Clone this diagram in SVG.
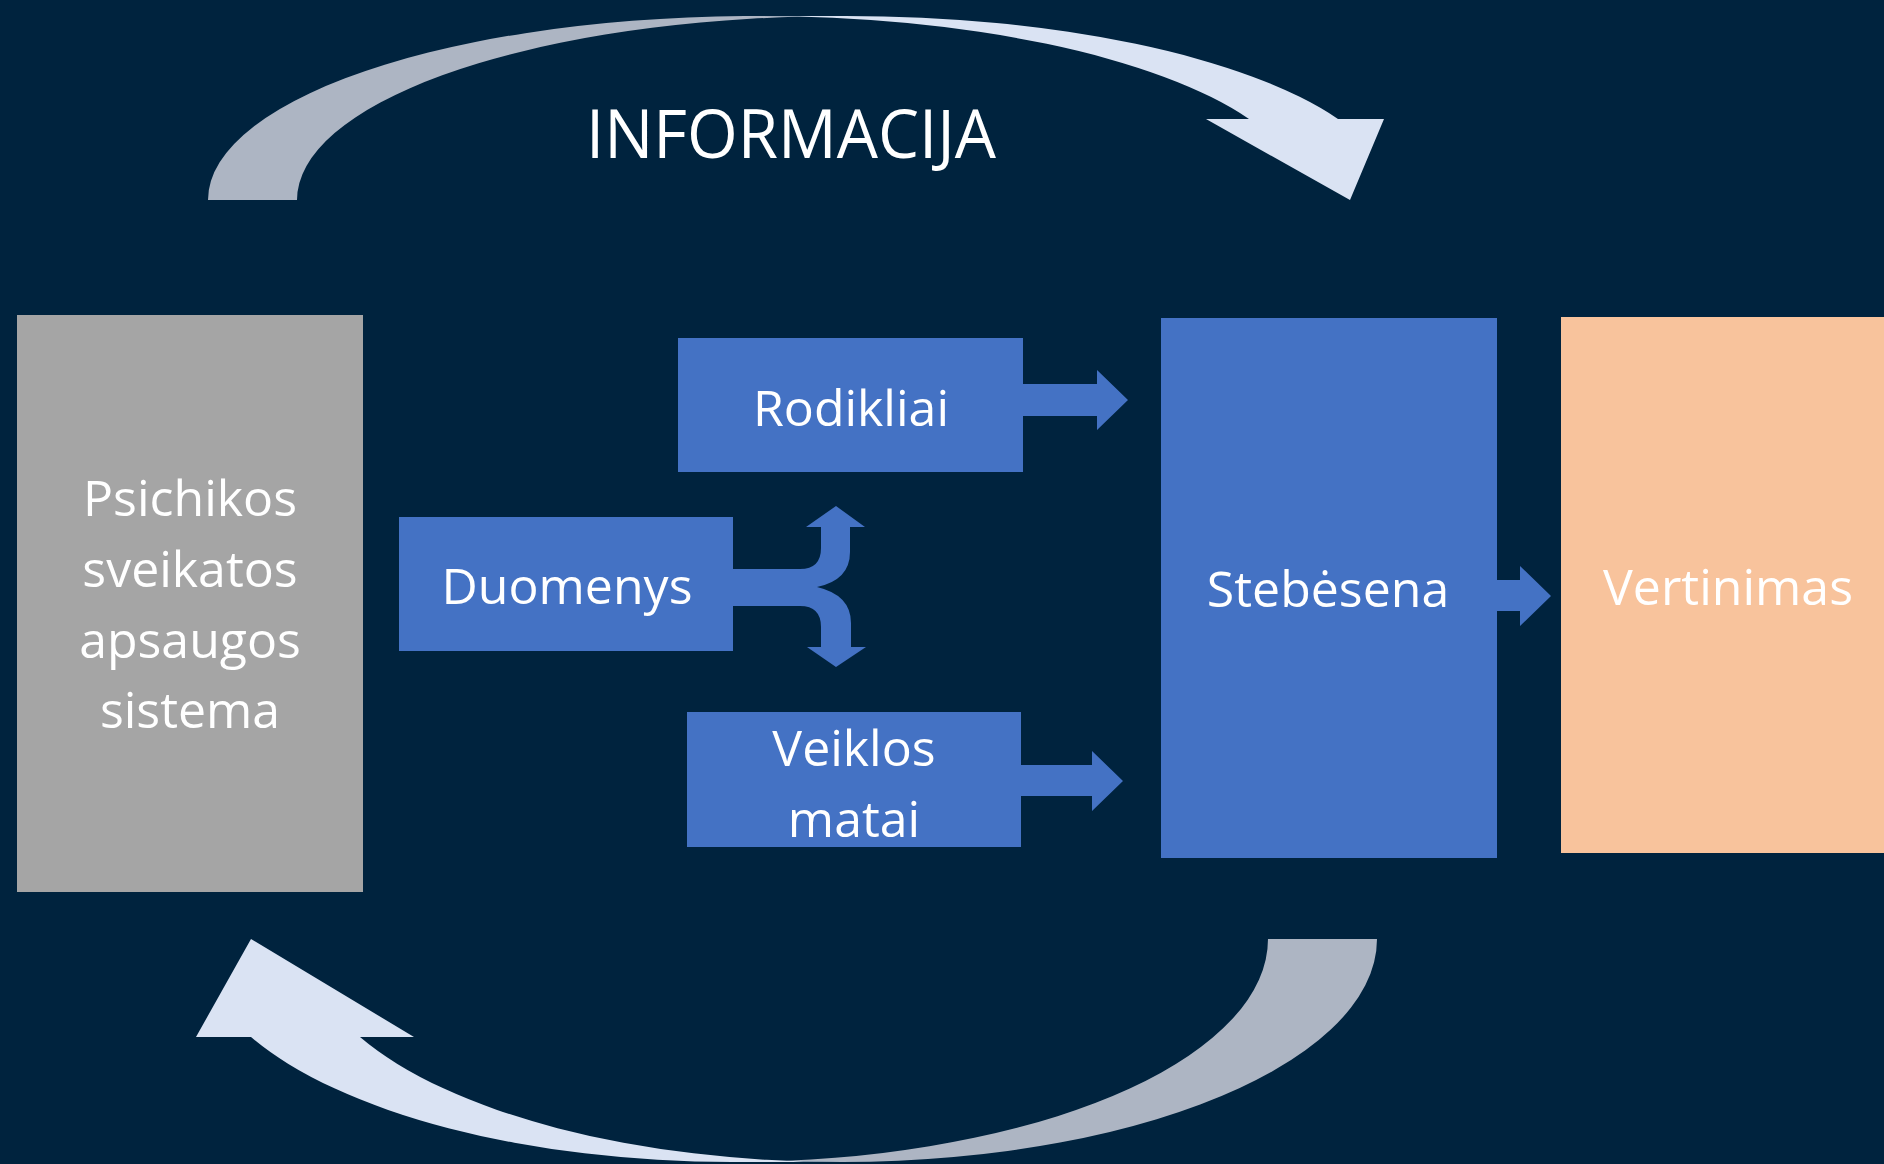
<svg xmlns="http://www.w3.org/2000/svg" width="1884" height="1164" viewBox="0 0 1884 1164">
  <style>
    .blue { fill: #4472C4; }
    .back { fill: #ADB5C3; }
    .light { fill: #DAE3F3; }
    .lbl { font-family: "Open Sans", "Liberation Sans", sans-serif; font-size: 50px; fill: #FFFFFF; text-anchor: middle; }
  </style>
  <rect x="0" y="0" width="1884" height="1164" fill="#00233E"/>

  <g id="connectors">
    <!-- top curved arrow (INFORMACIJA) -->
    <path class="back" d="M 208,200 A 548.5,184 0 0 1 801,16.6 A 548.5,184 0 0 0 297,200 Z"/>
    <path class="light" d="M 1350,200 L 1206,119 L 1249,119 A 548.5,184 0 0 0 756.5,16 L 845.5,16 A 548.5,184 0 0 1 1338,119 L 1384,119 Z"/>
    <!-- bottom curved arrow -->
    <path class="back" d="M 1377,939 A 536,223 0 0 1 786.5,1160.8 A 536,223 0 0 0 1268,939 Z"/>
    <path class="light" d="M 251,939 L 414,1037 L 360,1037 A 536,223 0 0 0 841,1162 L 732,1162 A 536,223 0 0 1 251,1037 L 196,1037 Z"/>
    <!-- split arrow from Duomenys -->
    <path class="blue" d="M 733,569 L 800,569 Q 821,569 821,548 L 821,527 L 806,527 L 836,506 L 865,527 L 850,527 L 850,552 Q 850,580 817,587 Q 851,595 851,623 L 851,647 L 866,647 L 836,667 L 807,647 L 821,647 L 821,627 Q 821,606 800,606 L 733,606 Z"/>
    <!-- Rodikliai -> Stebesena -->
    <path class="blue" d="M 1022,384 L 1097,384 L 1097,370 L 1128,400 L 1097,430 L 1097,416 L 1022,416 Z"/>
    <!-- Veiklos matai -> Stebesena -->
    <path class="blue" d="M 1020,765 L 1092,765 L 1092,751 L 1123,781 L 1092,811 L 1092,796 L 1020,796 Z"/>
    <!-- Stebesena -> Vertinimas -->
    <path class="blue" d="M 1496,580 L 1520,580 L 1520,566 L 1551,596 L 1520,626 L 1520,611 L 1496,611 Z"/>
  </g>

  <text x="791" y="158" font-family="Open Sans, Liberation Sans, sans-serif" font-size="67" fill="#FFFFFF" text-anchor="middle" textLength="410" lengthAdjust="spacingAndGlyphs">INFORMACIJA</text>

  <g id="node-sistema">
    <rect x="17" y="315" width="346" height="577" fill="#A5A5A5"/>
    <text class="lbl" x="190" y="516">Psichikos</text>
    <text class="lbl" x="190" y="587">sveikatos</text>
    <text class="lbl" x="190" y="658">apsaugos</text>
    <text class="lbl" x="190" y="728">sistema</text>
  </g>

  <g id="node-rodikliai">
    <rect class="blue" x="678" y="338" width="345" height="134"/>
    <text class="lbl" x="851" y="426">Rodikliai</text>
  </g>

  <g id="node-duomenys">
    <rect class="blue" x="399" y="517" width="334" height="134"/>
    <text class="lbl" x="567" y="604">Duomenys</text>
  </g>

  <g id="node-veiklos">
    <rect class="blue" x="687" y="712" width="334" height="135"/>
    <text class="lbl" x="854" y="766">Veiklos</text>
    <text class="lbl" x="854" y="837">matai</text>
  </g>

  <g id="node-stebesena">
    <rect class="blue" x="1161" y="318" width="336" height="540"/>
    <text class="lbl" x="1328" y="607">Stebėsena</text>
  </g>

  <g id="node-vertinimas">
    <rect x="1561" y="317" width="323" height="536" fill="#F8C39C"/>
    <text class="lbl" x="1728" y="605">Vertinimas</text>
  </g>
</svg>
